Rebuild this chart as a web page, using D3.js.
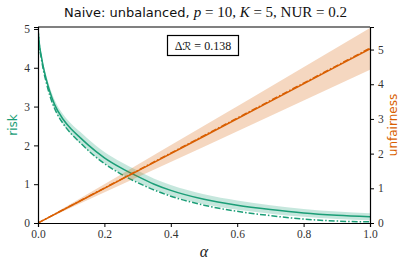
<!DOCTYPE html>
<html>
<head>
<meta charset="utf-8">
<script src="https://cdn.jsdelivr.net/npm/d3@7"></script>
<style>
  body { margin: 0; background: #fff; }
</style>
</head>
<body>
<script>
// risk curve (left axis), alpha grid
var alphaGrid = [0, 0.005, 0.01, 0.016, 0.025, 0.035, 0.05, 0.075, 0.1, 0.127, 0.15, 0.2, 0.25, 0.3, 0.35, 0.4, 0.5, 0.6, 0.7, 0.8, 0.9, 1.0];
var riskMean  = [5.0, 4.55, 4.3, 4.02, 3.7, 3.4, 3.05, 2.68, 2.42, 2.2, 2.02, 1.68, 1.42, 1.2, 1.0, 0.84, 0.61, 0.46, 0.35, 0.26, 0.2, 0.16];
var riskStd   = [0, 0.04, 0.07, 0.09, 0.1, 0.11, 0.12, 0.13, 0.14, 0.15, 0.15, 0.15, 0.15, 0.15, 0.14, 0.14, 0.13, 0.12, 0.11, 0.1, 0.095, 0.09];
var riskAlt   = [5.0, 4.5, 4.24, 3.95, 3.62, 3.3, 2.95, 2.57, 2.3, 2.07, 1.88, 1.53, 1.26, 1.04, 0.85, 0.69, 0.46, 0.3, 0.19, 0.1, 0.05, 0.03];

// unfairness (right axis)
var alphaLin   = [0, 0.25, 0.5, 0.75, 1.0];
var unfairMean = [0, 1.25, 2.5, 3.76, 5.02];
var unfairStd  = [0, 0.15, 0.3, 0.45, 0.6];
var unfairAlt  = [0, 1.26, 2.52, 3.78, 5.04];

var xTicks = [0, 0.2, 0.4, 0.6, 0.8, 1.0];
var riskTicks = [0, 1, 2, 3, 4, 5];
var unfairTicks = [0, 1, 2, 3, 4, 5];
var deltaR = "0.138";

var green = "#1b9e77", orange = "#d95f02";
var serif = "'Liberation Serif', 'DejaVu Serif', serif";
var sans = "'DejaVu Sans', sans-serif";
var W = 407, H = 267;
var m = { left: 38, right: 37, top: 27, bottom: 44 };

var svg = d3.select("body").append("svg")
    .attr("width", W)
    .attr("height", H);

var x = d3.scaleLinear().domain([0, 1]).range([m.left, W - m.right]);
var yL = d3.scaleLinear().domain([0, 5.05]).range([H - m.bottom, m.top]);
var yR = d3.scaleLinear().domain([0, 5.65]).range([H - m.bottom, m.top]);

var dashdot = "6,2,1.5,2";

function rows(xs, mean, std, alt) {
    return xs.map(function (a, i) { return { a: a, m: mean[i], s: std[i], alt: alt[i] }; });
}
var riskData = rows(alphaGrid, riskMean, riskStd, riskAlt);
var unfairData = rows(alphaLin, unfairMean, unfairStd, unfairAlt);

svg.append("clipPath").attr("id", "plot")
  .append("rect")
    .attr("x", m.left).attr("y", m.top)
    .attr("width", W - m.left - m.right).attr("height", H - m.top - m.bottom);

function drawSeries(data, y, color) {
    var g = svg.append("g").attr("clip-path", "url(#plot)");
    g.append("path")
        .attr("d", d3.area().curve(d3.curveMonotoneX)
            .x(function (d) { return x(d.a); })
            .y0(function (d) { return y(d.m - d.s); })
            .y1(function (d) { return y(d.m + d.s); })(data))
        .attr("fill", color).attr("fill-opacity", 0.25);
    g.append("path")
        .attr("d", d3.line().curve(d3.curveMonotoneX)
            .x(function (d) { return x(d.a); })
            .y(function (d) { return y(d.alt); })(data))
        .attr("fill", "none").attr("stroke", color).attr("stroke-width", 1.5)
        .attr("stroke-dasharray", dashdot);
    g.append("path")
        .attr("d", d3.line().curve(d3.curveMonotoneX)
            .x(function (d) { return x(d.a); })
            .y(function (d) { return y(d.m); })(data))
        .attr("fill", "none").attr("stroke", color).attr("stroke-width", 1.5);
}
drawSeries(riskData, yL, green);
drawSeries(unfairData, yR, orange);

// top spine
svg.append("line")
    .attr("x1", m.left).attr("x2", W - m.right)
    .attr("y1", m.top).attr("y2", m.top)
    .attr("stroke", "#808080").attr("stroke-width", 2);

function styleAxis(g) {
    g.attr("font-family", null).attr("font-size", null);
    g.select(".domain").attr("stroke", "#000").attr("stroke-width", 1.2);
    g.selectAll(".tick line").attr("stroke", "#000").attr("stroke-width", 1);
    g.selectAll(".tick text")
        .attr("font-family", serif).attr("font-size", 11.5).attr("fill", "#333");
}

svg.append("g")
    .attr("transform", "translate(0," + (H - m.bottom) + ")")
    .call(d3.axisBottom(x).tickValues(xTicks).tickFormat(d3.format(".1f")).tickSizeOuter(0).tickSize(4).tickPadding(3))
    .call(styleAxis);

svg.append("g")
    .attr("transform", "translate(" + m.left + ",0)")
    .call(d3.axisLeft(yL).tickValues(riskTicks).tickFormat(d3.format("d")).tickSizeOuter(0).tickSize(4).tickPadding(4))
    .call(styleAxis);

svg.append("g")
    .attr("transform", "translate(" + (W - m.right) + ",0)")
    .call(d3.axisRight(yR).tickValues(unfairTicks).tickFormat(d3.format("d")).tickSizeOuter(0).tickSize(4).tickPadding(4))
    .call(styleAxis);

// axis labels
svg.append("text")
    .attr("x", x(0.5)).attr("y", 257)
    .attr("text-anchor", "middle")
    .attr("font-family", serif).attr("font-style", "italic").attr("font-size", 16)
    .attr("fill", "#222")
    .text("α");

svg.append("text")
    .attr("transform", "translate(17," + ((m.top + H - m.bottom) / 2) + ") rotate(-90)")
    .attr("text-anchor", "middle")
    .attr("font-family", sans).attr("font-size", 12)
    .attr("fill", green)
    .text("risk");

svg.append("text")
    .attr("transform", "translate(397," + ((m.top + H - m.bottom) / 2) + ") rotate(-90)")
    .attr("text-anchor", "middle")
    .attr("font-family", sans).attr("font-size", 12)
    .attr("fill", orange)
    .text("unfairness");

// title
var title = svg.append("text")
    .attr("x", W / 2 + 2).attr("y", 17)
    .attr("text-anchor", "middle")
    .attr("font-size", 13).attr("fill", "#111");
title.append("tspan").attr("font-family", sans).text("Naive: unbalanced, ");
title.append("tspan").attr("font-family", serif).attr("font-style", "italic").attr("font-size", 15).text("p");
title.append("tspan").attr("font-family", serif).attr("font-size", 15).text(" = 10, ");
title.append("tspan").attr("font-family", serif).attr("font-style", "italic").attr("font-size", 15).text("K");
title.append("tspan").attr("font-family", serif).attr("font-size", 15).text(" = 5, NUR = 0.2");

// annotation box
var box = svg.append("g");
box.append("rect")
    .attr("x", 167.5).attr("y", 35.5).attr("width", 71).attr("height", 20)
    .attr("fill", "#fff").attr("stroke", "#000").attr("stroke-width", 1.2);
var ann = box.append("text")
    .attr("x", 203).attr("y", 50)
    .attr("text-anchor", "middle")
    .attr("font-family", serif).attr("font-size", 12).attr("fill", "#111");
ann.append("tspan").text("Δ");
ann.append("tspan").attr("font-family", sans).attr("font-size", 11).text("ℛ");
ann.append("tspan").text(" = " + deltaR);
</script>
</body>
</html>
